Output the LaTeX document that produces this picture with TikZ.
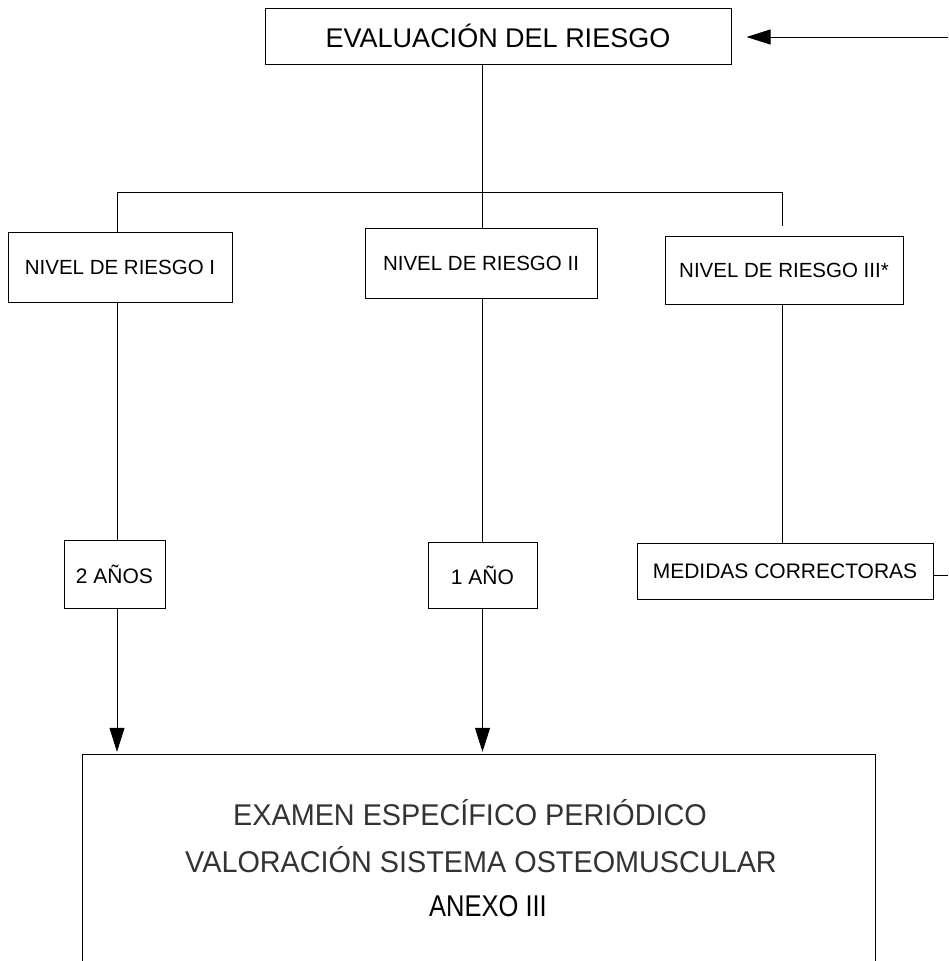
\documentclass[tikz,border=0pt]{standalone}
\usepackage{fontspec}
\setmainfont{Liberation Sans}
\newfontfamily\examfont[FakeStretch=0.96]{Liberation Sans}
\newfontfamily\anexofont[FakeStretch=0.85]{Liberation Sans}
\usetikzlibrary{arrows.meta,positioning}
\begin{document}
\begin{tikzpicture}[x=1pt,y=-1pt,>={Triangle[length=24pt,width=15pt]},
  caja/.style={draw,line width=1pt,inner sep=0pt,font=\fontsize{20.5}{24}\selectfont},
  plazo/.style={caja,font=\fontsize{21}{24}\selectfont},
  linea/.style={line width=0.8pt},
  examtxt/.style={font=\examfont\fontsize{30}{34}\selectfont,text=black!80}]
\useasboundingbox (0,0) rectangle (948,961);
\node[caja,minimum width=466,minimum height=56,font=\fontsize{27}{30}\selectfont] (eval) at (498,36) {EVALUACIÓN DEL RIESGO};
\node[caja,minimum width=224,minimum height=70] (n1) at (120,267) {NIVEL DE RIESGO I};
\node[caja,minimum width=232,minimum height=70] (n2) at (481,263) {NIVEL DE RIESGO II};
\node[caja,minimum width=238,minimum height=68] (n3) at (784,270) {NIVEL DE RIESGO III*};
\node[plazo,minimum width=101,minimum height=68] (p2) at (114.5,574) {2 AÑOS};
\node[plazo,minimum width=109,minimum height=66] (p1) at (482.5,575) {1 AÑO};
\node[plazo,minimum width=296,minimum height=56] (med) at (785,571) {MEDIDAS CORRECTORAS};
\node[minimum width=792,minimum height=206,inner sep=0pt] (exam) at (479,858) {};
\draw[line width=1pt] (exam.south west) -- (exam.north west) -- (exam.north east) -- (exam.south east);
\node[examtxt] (t1) at (470,813) {EXAMEN ESPECÍFICO PERIÓDICO};
\node[examtxt] (t2) at (481,860) {VALORACIÓN SISTEMA OSTEOMUSCULAR};
\node[examtxt,font=\anexofont\fontsize{30}{34}\selectfont,text=black] (t3) at (488,906) {ANEXO III};
\coordinate (bus) at (482,192);
\coordinate (busl) at (117,192);
\coordinate (busr) at (782,192);
\draw[linea] (eval.south -| bus) -- (n2.north -| bus);
\draw[linea,shorten >=10pt] (n1.north -| busl) -- (busl) -- (busr) -- (n3.north -| busr);
\draw[linea] (n1.south -| busl) -- (p2.north -| busl);
\draw[linea] (n2.south -| bus) -- (p1.north -| bus);
\draw[linea] (n3.south -| busr) -- (med.north -| busr);
\draw[linea,->,shorten >=3pt] (p2.south -| busl) -- (exam.north -| busl);
\draw[linea,->,shorten >=3pt] (p1.south) -- (exam.north -| p1.south);
\coordinate (ret) at (948,37);
\coordinate (ret2) at (948,575);
\draw[linea,->,shorten >=15pt] (ret) -- (eval.east |- ret);
\draw[linea] (med.east |- ret2) -- (ret2);
\end{tikzpicture}
\end{document}
